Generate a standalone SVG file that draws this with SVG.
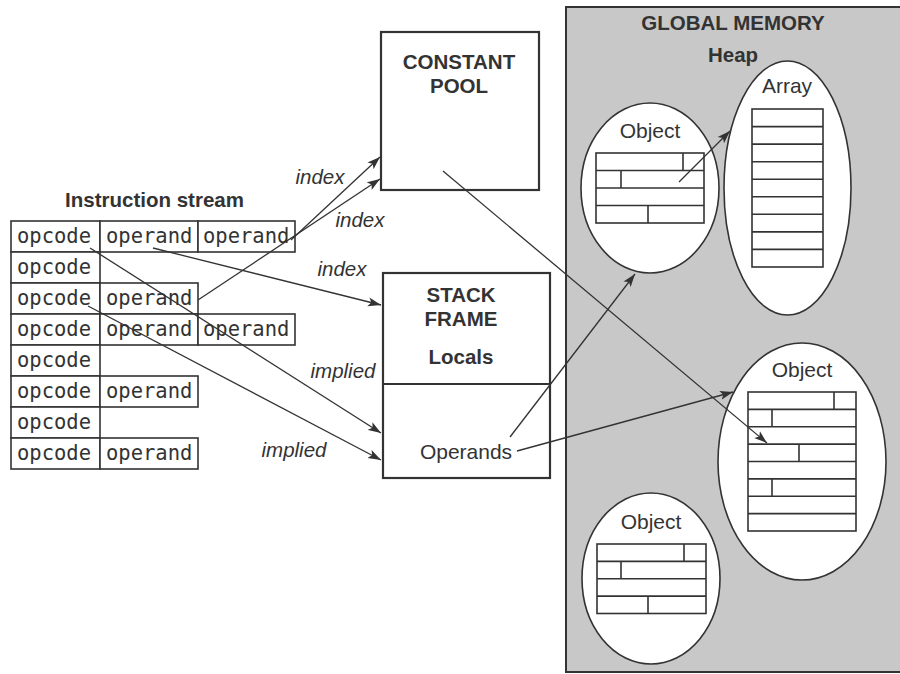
<svg xmlns="http://www.w3.org/2000/svg" width="900" height="674" viewBox="0 0 900 674">
<defs>
<style>
.bold{font-family:"Liberation Sans",Arial,sans-serif;font-weight:bold;font-size:20.5px;fill:#333;text-anchor:middle}
.reg{font-family:"Liberation Sans",Arial,sans-serif;font-size:21px;fill:#333;text-anchor:middle}
.ital{font-family:"Liberation Sans",Arial,sans-serif;font-style:italic;font-size:20.5px;fill:#333;text-anchor:middle}
.mono{font-family:"DejaVu Sans Mono",monospace;font-size:20.5px;fill:#333}
.cell{fill:#fff;stroke:#333;stroke-width:1.6}
.box{fill:#fff;stroke:#333;stroke-width:2.2}
.ell{fill:#fff;stroke:#333;stroke-width:1.6}
.grid{fill:#fff;stroke:#333;stroke-width:1.6}
.gl{fill:none;stroke:#333;stroke-width:1.6}
.conn{fill:none;stroke:#333;stroke-width:1.3;marker-end:url(#ah)}
.plain{fill:none;stroke:#333;stroke-width:1.3}
</style>
<marker id="ah" markerUnits="userSpaceOnUse" markerWidth="14" markerHeight="10" refX="13" refY="5" orient="auto">
<path d="M0,0.5 L13,5 L0,9.5 L3,5 z" fill="#333"/>
</marker>
</defs>
<rect width="900" height="674" fill="#fff"/>

<g id="global-memory">
<rect x="566" y="7" width="340" height="665" fill="#c8c8c8" stroke="#333" stroke-width="2"/>
<text class="bold" x="733" y="30">GLOBAL MEMORY</text>
<text class="bold" x="733" y="61.5">Heap</text>
</g>

<g id="array">
<ellipse class="ell" cx="787.5" cy="188" rx="63.5" ry="127"/>
<text class="reg" x="787" y="93">Array</text>
<rect class="grid" x="752" y="109" width="71" height="158"/>
<path class="gl" d="M752,126.6H823M752,144.1H823M752,161.7H823M752,179.2H823M752,196.8H823M752,214.3H823M752,231.9H823M752,249.4H823"/>
</g>

<g id="object1">
<ellipse class="ell" cx="650" cy="188" rx="69" ry="85"/>
<text class="reg" x="650" y="138">Object</text>
<rect class="grid" x="596" y="153" width="108" height="70"/>
<path class="gl" d="M596,170.5H704M596,188H704M596,205.5H704M683,153V170.5M621,170.5V188M648,205.5V223"/>
</g>

<g id="object2">
<ellipse class="ell" cx="802" cy="461.5" rx="84" ry="118.5"/>
<text class="reg" x="802" y="377">Object</text>
<rect class="grid" x="748" y="392" width="108" height="139"/>
<path class="gl" d="M748,409.4H856M748,426.8H856M748,444.1H856M748,461.5H856M748,478.9H856M748,496.3H856M748,513.6H856M834,392V409.4M772,409.4V426.8M799,444.1V461.5M772,478.9V496.3"/>
</g>

<g id="object3">
<ellipse class="ell" cx="651" cy="578.5" rx="69" ry="85.5"/>
<text class="reg" x="651" y="528.5">Object</text>
<rect class="grid" x="597" y="544" width="109" height="69.5"/>
<path class="gl" d="M597,561.4H706M597,578.8H706M597,596.1H706M684,544V561.4M621,561.4V578.8M648,596.1V613.5"/>
</g>

<g id="constant-pool">
<rect class="box" x="381" y="32" width="158" height="158"/>
<text class="bold" x="459" y="69">CONSTANT</text>
<text class="bold" x="459" y="93">POOL</text>
</g>

<g id="stack-frame">
<rect class="box" x="383" y="273" width="167" height="205"/>
<line x1="383" y1="384" x2="550" y2="384" stroke="#333" stroke-width="2.2"/>
<text class="bold" x="461" y="302">STACK</text>
<text class="bold" x="461" y="326">FRAME</text>
<text class="bold" x="461" y="364">Locals</text>
<text class="reg" x="466" y="459">Operands</text>
</g>

<g id="instruction-stream">
<text class="bold" x="154.5" y="207">Instruction stream</text>
<rect class="cell" x="11" y="221" width="89" height="31"/>
<rect class="cell" x="100" y="221" width="98" height="31"/>
<rect class="cell" x="198" y="221" width="97" height="31"/>
<rect class="cell" x="11" y="252" width="89" height="31"/>
<rect class="cell" x="11" y="283" width="89" height="31"/>
<rect class="cell" x="100" y="283" width="98" height="31"/>
<rect class="cell" x="11" y="314" width="89" height="31"/>
<rect class="cell" x="100" y="314" width="98" height="31"/>
<rect class="cell" x="198" y="314" width="97" height="31"/>
<rect class="cell" x="11" y="345" width="89" height="31"/>
<rect class="cell" x="11" y="376" width="89" height="31"/>
<rect class="cell" x="100" y="376" width="98" height="31"/>
<rect class="cell" x="11" y="407" width="89" height="31"/>
<rect class="cell" x="11" y="438" width="89" height="31"/>
<rect class="cell" x="100" y="438" width="98" height="31"/>
<text class="mono" x="17" y="243">opcode</text>
<text class="mono" x="106" y="243">operand</text>
<text class="mono" x="203" y="243">operand</text>
<text class="mono" x="17" y="274">opcode</text>
<text class="mono" x="17" y="305">opcode</text>
<text class="mono" x="106" y="305">operand</text>
<text class="mono" x="17" y="336">opcode</text>
<text class="mono" x="106" y="336">operand</text>
<text class="mono" x="203" y="336">operand</text>
<text class="mono" x="17" y="367">opcode</text>
<text class="mono" x="17" y="398">opcode</text>
<text class="mono" x="106" y="398">operand</text>
<text class="mono" x="17" y="429">opcode</text>
<text class="mono" x="17" y="460">opcode</text>
<text class="mono" x="106" y="460">operand</text>
</g>

<g id="connectors">
<line class="conn" x1="291" y1="240" x2="380" y2="157"/>
<line class="conn" x1="198" y1="300" x2="380" y2="179"/>
<line class="conn" x1="153" y1="248" x2="381" y2="305"/>
<line class="conn" x1="90" y1="248" x2="381" y2="433"/>
<line class="conn" x1="88" y1="306" x2="381" y2="460"/>
<line class="conn" x1="443" y1="171" x2="767" y2="443"/>
<line class="conn" x1="510" y1="437" x2="635" y2="274"/>
<line class="conn" x1="517" y1="451" x2="733" y2="392"/>
<line class="conn" x1="679" y1="182" x2="730" y2="131"/>
<text class="ital" x="320" y="184">index</text>
<text class="ital" x="360" y="227">index</text>
<text class="ital" x="342" y="276">index</text>
<text class="ital" x="343" y="378">implied</text>
<text class="ital" x="294" y="457">implied</text>
</g>
</svg>
